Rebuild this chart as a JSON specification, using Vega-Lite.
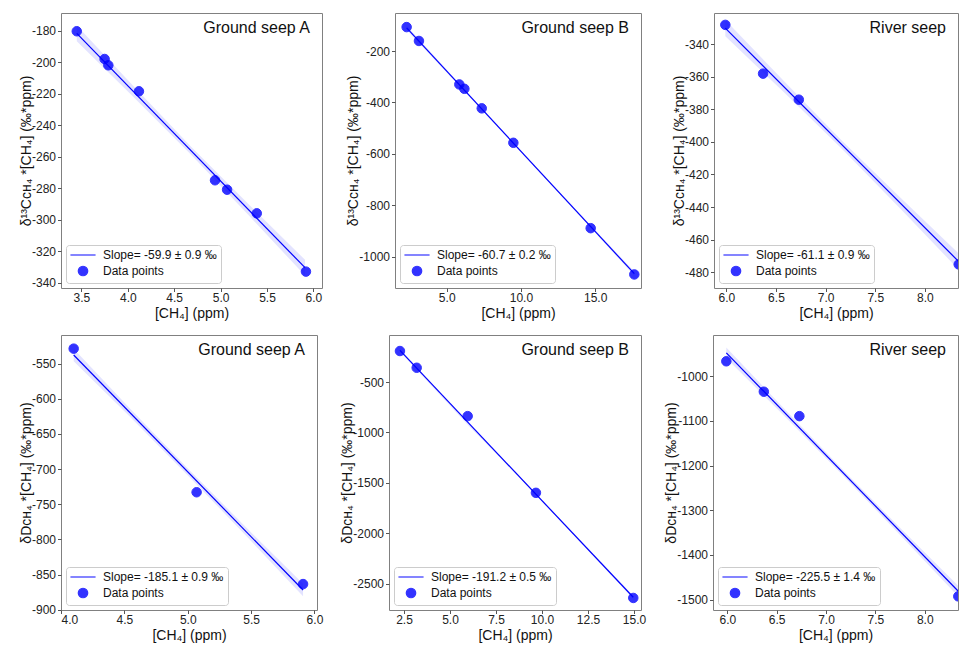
{
  "$schema": "https://vega.github.io/schema/vega-lite/v6.json",
  "padding": {"left": 18, "top": 12, "right": 0, "bottom": 0},
  "background": "white",
  "config": {
    "view": {"stroke": "#808080", "strokeWidth": 1},
    "axis": {"domain": false, "grid": false, "tickSize": 3.5, "tickColor": "#555", "labelFont": "Liberation Sans", "labelFontSize": 12, "labelColor": "#222", "labelPadding": 2, "titleFont": "Liberation Sans", "titleFontSize": 14, "titleFontWeight": "normal", "titleColor": "#111"},
    "axisX": {"titlePadding": 3, "labelPadding": 1},
    "axisY": {"titlePadding": -2, "format": "d", "labelExpr": "replace(datum.label, '\u2212', '-')"},
    "title": {"anchor": "end", "frame": "group", "offset": -23, "baseline": "top", "dx": -12, "fontSize": 16, "fontWeight": "normal", "font": "Liberation Sans", "color": "#111"},
    "legend": {"orient": "bottom-left", "offset": 5, "strokeColor": "#cccccc", "fillColor": "rgba(255,255,255,0.8)", "cornerRadius": 3, "padding": 4, "labelFont": "Liberation Sans", "labelFontSize": 12, "labelColor": "#111", "symbolStrokeWidth": 1.2, "symbolSize": 90, "symbolOffset": 7, "labelOffset": 14, "rowPadding": 2}
  },
  "datasets": {
    "d1": [
      {"kind": "band", "ppm": 3.45, "val": -186.7, "val2": -176.7},
      {"kind": "band", "ppm": 4.05, "val": -221.5, "val2": -214.5},
      {"kind": "band", "ppm": 4.68, "val": -258.6, "val2": -253.6},
      {"kind": "band", "ppm": 5.30, "val": -297.1, "val2": -290.1},
      {"kind": "band", "ppm": 5.91, "val": -335.5, "val2": -325.5},
      {"kind": "fit", "ppm": 3.45, "val": -181.7},
      {"kind": "fit", "ppm": 5.91, "val": -330.5},
      {"kind": "pt", "series": "Data points", "ppm": 3.45, "val": -180.4},
      {"kind": "pt", "series": "Data points", "ppm": 3.75, "val": -198},
      {"kind": "pt", "series": "Data points", "ppm": 3.79, "val": -202},
      {"kind": "pt", "series": "Data points", "ppm": 4.12, "val": -218.5},
      {"kind": "pt", "series": "Data points", "ppm": 4.94, "val": -275},
      {"kind": "pt", "series": "Data points", "ppm": 5.07, "val": -281},
      {"kind": "pt", "series": "Data points", "ppm": 5.39, "val": -296},
      {"kind": "pt", "series": "Data points", "ppm": 5.92, "val": -333}
    ],
    "d2": [
      {"kind": "band", "ppm": 2.30, "val": -118, "val2": -102},
      {"kind": "band", "ppm": 6.0, "val": -344.5, "val2": -336.5},
      {"kind": "band", "ppm": 10.0, "val": -592.7, "val2": -586.7},
      {"kind": "band", "ppm": 14.0, "val": -842.9, "val2": -834.9},
      {"kind": "band", "ppm": 17.64, "val": -1074, "val2": -1058},
      {"kind": "fit", "ppm": 2.30, "val": -110},
      {"kind": "fit", "ppm": 17.64, "val": -1066},
      {"kind": "pt", "series": "Data points", "ppm": 2.30, "val": -107},
      {"kind": "pt", "series": "Data points", "ppm": 3.13, "val": -161},
      {"kind": "pt", "series": "Data points", "ppm": 5.85, "val": -330},
      {"kind": "pt", "series": "Data points", "ppm": 6.19, "val": -347},
      {"kind": "pt", "series": "Data points", "ppm": 7.36, "val": -423},
      {"kind": "pt", "series": "Data points", "ppm": 9.49, "val": -557},
      {"kind": "pt", "series": "Data points", "ppm": 14.70, "val": -889},
      {"kind": "pt", "series": "Data points", "ppm": 17.64, "val": -1069}
    ],
    "d3": [
      {"kind": "band", "ppm": 5.99, "val": -335, "val2": -325},
      {"kind": "band", "ppm": 6.58, "val": -369.5, "val2": -362.5},
      {"kind": "band", "ppm": 7.17, "val": -404.6, "val2": -399.6},
      {"kind": "band", "ppm": 7.76, "val": -441.6, "val2": -434.6},
      {"kind": "band", "ppm": 8.34, "val": -478.5, "val2": -468.5},
      {"kind": "fit", "ppm": 5.99, "val": -330},
      {"kind": "fit", "ppm": 8.34, "val": -473.5},
      {"kind": "pt", "series": "Data points", "ppm": 5.99, "val": -328},
      {"kind": "pt", "series": "Data points", "ppm": 6.37, "val": -358},
      {"kind": "pt", "series": "Data points", "ppm": 6.73, "val": -374},
      {"kind": "pt", "series": "Data points", "ppm": 8.34, "val": -475.3}
    ],
    "d4": [
      {"kind": "band", "ppm": 4.10, "val": -546.7, "val2": -528.7},
      {"kind": "band", "ppm": 4.55, "val": -626.8, "val2": -614.8},
      {"kind": "band", "ppm": 5.005, "val": -709.8, "val2": -699.8},
      {"kind": "band", "ppm": 5.46, "val": -794.9, "val2": -782.9},
      {"kind": "band", "ppm": 5.91, "val": -881, "val2": -863},
      {"kind": "fit", "ppm": 4.10, "val": -537.7},
      {"kind": "fit", "ppm": 5.91, "val": -872},
      {"kind": "pt", "series": "Data points", "ppm": 4.10, "val": -528.7},
      {"kind": "pt", "series": "Data points", "ppm": 5.07, "val": -733},
      {"kind": "pt", "series": "Data points", "ppm": 5.91, "val": -863.6}
    ],
    "d5": [
      {"kind": "band", "ppm": 2.28, "val": -200, "val2": -170},
      {"kind": "band", "ppm": 6.0, "val": -930.5, "val2": -910.5},
      {"kind": "band", "ppm": 8.62, "val": -1416.9, "val2": -1402.9},
      {"kind": "band", "ppm": 12.0, "val": -2072.9, "val2": -2052.9},
      {"kind": "band", "ppm": 14.96, "val": -2650, "val2": -2620},
      {"kind": "fit", "ppm": 2.28, "val": -185},
      {"kind": "fit", "ppm": 14.96, "val": -2635},
      {"kind": "pt", "series": "Data points", "ppm": 2.28, "val": -192},
      {"kind": "pt", "series": "Data points", "ppm": 3.19, "val": -358},
      {"kind": "pt", "series": "Data points", "ppm": 5.96, "val": -838},
      {"kind": "pt", "series": "Data points", "ppm": 9.67, "val": -1599},
      {"kind": "pt", "series": "Data points", "ppm": 14.96, "val": -2642}
    ],
    "d6": [
      {"kind": "band", "ppm": 5.99, "val": -960, "val2": -936},
      {"kind": "band", "ppm": 6.58, "val": -1089.9, "val2": -1073.9},
      {"kind": "band", "ppm": 7.165, "val": -1220.5, "val2": -1208.5},
      {"kind": "band", "ppm": 7.75, "val": -1355.2, "val2": -1339.2},
      {"kind": "band", "ppm": 8.34, "val": -1493, "val2": -1469},
      {"kind": "fit", "ppm": 5.99, "val": -948},
      {"kind": "fit", "ppm": 8.34, "val": -1481},
      {"kind": "pt", "series": "Data points", "ppm": 5.99, "val": -967},
      {"kind": "pt", "series": "Data points", "ppm": 6.37, "val": -1035},
      {"kind": "pt", "series": "Data points", "ppm": 6.73, "val": -1089.6},
      {"kind": "pt", "series": "Data points", "ppm": 8.34, "val": -1492.5}
    ]
  },
  "vconcat": [
    {
      "hconcat": [
        {
          "width": 261, "height": 275,
          "data": {"name": "d1"},
          "title": {"text": "Ground seep A"},
          "encoding": {
            "x": {"field": "ppm", "type": "quantitative", "scale": {"domain": [3.28, 6.093], "nice": false, "zero": false}, "axis": {"values": [3.5, 4, 4.5, 5, 5.5, 6], "format": ".1f", "title": "[CH₄] (ppm)"}},
            "y": {"field": "val", "type": "quantitative", "scale": {"domain": [-343.4, -168.8], "nice": false, "zero": false}, "axis": {"values": [-340, -320, -300, -280, -260, -240, -220, -200, -180], "title": "δ¹³Cᴄʜ₄ *[CH₄] (‰*ppm)"}}
          },
          "layer": [
            {"transform": [{"filter": "datum.kind == 'band'"}], "mark": {"type": "area", "color": "#0000ff", "opacity": 0.11, "clip": true}, "encoding": {"y2": {"field": "val2"}}},
            {"transform": [{"filter": "datum.kind == 'fit'"}], "mark": {"type": "line", "color": "#0000ff", "strokeWidth": 1.2, "clip": true}, "encoding": {}},
            {"transform": [{"filter": "datum.kind == 'pt'"}], "mark": {"type": "point", "filled": true, "size": 90, "opacity": 0.8, "stroke": "#0000ff", "strokeWidth": 1, "clip": true},
             "encoding": {
               "color": {"field": "series", "type": "nominal", "scale": {"domain": ["Slope= -59.9 ± 0.9 ‰", "Data points"], "range": ["#0000ff", "#0000ff"]}, "legend": {"title": null}},
               "shape": {"field": "series", "type": "nominal", "scale": {"domain": ["Slope= -59.9 ± 0.9 ‰", "Data points"], "range": ["M-2.65,0H2.65", "circle"]}, "legend": {"title": null}}
             }}
          ]
        },
        {
          "width": 246, "height": 275,
          "data": {"name": "d2"},
          "title": {"text": "Ground seep B"},
          "encoding": {
            "x": {"field": "ppm", "type": "quantitative", "scale": {"domain": [1.516, 18.09], "nice": false, "zero": false}, "axis": {"values": [5, 10, 15], "format": ".1f", "title": "[CH₄] (ppm)"}},
            "y": {"field": "val", "type": "quantitative", "scale": {"domain": [-1121.7, -52.2], "nice": false, "zero": false}, "axis": {"values": [-1000, -800, -600, -400, -200], "title": "δ¹³Cᴄʜ₄ *[CH₄] (‰*ppm)"}}
          },
          "layer": [
            {"transform": [{"filter": "datum.kind == 'band'"}], "mark": {"type": "area", "color": "#0000ff", "opacity": 0.11, "clip": true}, "encoding": {"y2": {"field": "val2"}}},
            {"transform": [{"filter": "datum.kind == 'fit'"}], "mark": {"type": "line", "color": "#0000ff", "strokeWidth": 1.2, "clip": true}, "encoding": {}},
            {"transform": [{"filter": "datum.kind == 'pt'"}], "mark": {"type": "point", "filled": true, "size": 90, "opacity": 0.8, "stroke": "#0000ff", "strokeWidth": 1, "clip": true},
             "encoding": {
               "color": {"field": "series", "type": "nominal", "scale": {"domain": ["Slope= -60.7 ± 0.2 ‰", "Data points"], "range": ["#0000ff", "#0000ff"]}, "legend": {"title": null}},
               "shape": {"field": "series", "type": "nominal", "scale": {"domain": ["Slope= -60.7 ± 0.2 ‰", "Data points"], "range": ["M-2.65,0H2.65", "circle"]}, "legend": {"title": null}}
             }}
          ]
        },
        {
          "width": 244, "height": 275,
          "data": {"name": "d3"},
          "title": {"text": "River seep"},
          "encoding": {
            "x": {"field": "ppm", "type": "quantitative", "scale": {"domain": [5.876, 8.333], "nice": false, "zero": false}, "axis": {"values": [6, 6.5, 7, 7.5, 8], "format": ".1f", "title": "[CH₄] (ppm)"}},
            "y": {"field": "val", "type": "quantitative", "scale": {"domain": [-489.8, -320.7], "nice": false, "zero": false}, "axis": {"values": [-480, -460, -440, -420, -400, -380, -360, -340], "title": "δ¹³Cᴄʜ₄ *[CH₄] (‰*ppm)"}}
          },
          "layer": [
            {"transform": [{"filter": "datum.kind == 'band'"}], "mark": {"type": "area", "color": "#0000ff", "opacity": 0.11, "clip": true}, "encoding": {"y2": {"field": "val2"}}},
            {"transform": [{"filter": "datum.kind == 'fit'"}], "mark": {"type": "line", "color": "#0000ff", "strokeWidth": 1.2, "clip": true}, "encoding": {}},
            {"transform": [{"filter": "datum.kind == 'pt'"}], "mark": {"type": "point", "filled": true, "size": 90, "opacity": 0.8, "stroke": "#0000ff", "strokeWidth": 1, "clip": true},
             "encoding": {
               "color": {"field": "series", "type": "nominal", "scale": {"domain": ["Slope= -61.1 ± 0.9 ‰", "Data points"], "range": ["#0000ff", "#0000ff"]}, "legend": {"title": null}},
               "shape": {"field": "series", "type": "nominal", "scale": {"domain": ["Slope= -61.1 ± 0.9 ‰", "Data points"], "range": ["M-2.65,0H2.65", "circle"]}, "legend": {"title": null}}
             }}
          ]
        }
      ],
      "spacing": 73,
      "bounds": "flush",
      "resolve": {"scale": {"color": "independent", "shape": "independent"}, "legend": {"color": "independent", "shape": "independent"}}
    },
    {
      "hconcat": [
        {
          "width": 256, "height": 275,
          "data": {"name": "d4"},
          "title": {"text": "Ground seep A"},
          "encoding": {
            "x": {"field": "ppm", "type": "quantitative", "scale": {"domain": [4.0, 6.02], "nice": false, "zero": false}, "axis": {"values": [4, 4.5, 5, 5.5, 6], "format": ".1f", "title": "[CH₄] (ppm)"}},
            "y": {"field": "val", "type": "quantitative", "scale": {"domain": [-900.5, -509.3], "nice": false, "zero": false}, "axis": {"values": [-900, -850, -800, -750, -700, -650, -600, -550], "title": "δDᴄʜ₄ *[CH₄] (‰*ppm)"}}
          },
          "layer": [
            {"transform": [{"filter": "datum.kind == 'band'"}], "mark": {"type": "area", "color": "#0000ff", "opacity": 0.11, "clip": true}, "encoding": {"y2": {"field": "val2"}}},
            {"transform": [{"filter": "datum.kind == 'fit'"}], "mark": {"type": "line", "color": "#0000ff", "strokeWidth": 1.2, "clip": true}, "encoding": {}},
            {"transform": [{"filter": "datum.kind == 'pt'"}], "mark": {"type": "point", "filled": true, "size": 90, "opacity": 0.8, "stroke": "#0000ff", "strokeWidth": 1, "clip": true},
             "encoding": {
               "color": {"field": "series", "type": "nominal", "scale": {"domain": ["Slope= -185.1 ± 0.9 ‰", "Data points"], "range": ["#0000ff", "#0000ff"]}, "legend": {"title": null}},
               "shape": {"field": "series", "type": "nominal", "scale": {"domain": ["Slope= -185.1 ± 0.9 ‰", "Data points"], "range": ["M-2.65,0H2.65", "circle"]}, "legend": {"title": null}}
             }}
          ]
        },
        {
          "width": 252, "height": 275,
          "data": {"name": "d5"},
          "title": {"text": "Ground seep B"},
          "encoding": {
            "x": {"field": "ppm", "type": "quantitative", "scale": {"domain": [1.685, 15.38], "nice": false, "zero": false}, "axis": {"values": [2.5, 5, 7.5, 10, 12.5, 15], "format": ".1f", "title": "[CH₄] (ppm)"}},
            "y": {"field": "val", "type": "quantitative", "scale": {"domain": [-2761.6, -33], "nice": false, "zero": false}, "axis": {"values": [-2500, -2000, -1500, -1000, -500], "title": "δDᴄʜ₄ *[CH₄] (‰*ppm)"}}
          },
          "layer": [
            {"transform": [{"filter": "datum.kind == 'band'"}], "mark": {"type": "area", "color": "#0000ff", "opacity": 0.11, "clip": true}, "encoding": {"y2": {"field": "val2"}}},
            {"transform": [{"filter": "datum.kind == 'fit'"}], "mark": {"type": "line", "color": "#0000ff", "strokeWidth": 1.2, "clip": true}, "encoding": {}},
            {"transform": [{"filter": "datum.kind == 'pt'"}], "mark": {"type": "point", "filled": true, "size": 90, "opacity": 0.8, "stroke": "#0000ff", "strokeWidth": 1, "clip": true},
             "encoding": {
               "color": {"field": "series", "type": "nominal", "scale": {"domain": ["Slope= -191.2 ± 0.5 ‰", "Data points"], "range": ["#0000ff", "#0000ff"]}, "legend": {"title": null}},
               "shape": {"field": "series", "type": "nominal", "scale": {"domain": ["Slope= -191.2 ± 0.5 ‰", "Data points"], "range": ["M-2.65,0H2.65", "circle"]}, "legend": {"title": null}}
             }}
          ]
        },
        {
          "width": 245, "height": 275,
          "data": {"name": "d6"},
          "title": {"text": "River seep"},
          "encoding": {
            "x": {"field": "ppm", "type": "quantitative", "scale": {"domain": [5.855, 8.337], "nice": false, "zero": false}, "axis": {"values": [6, 6.5, 7, 7.5, 8], "format": ".1f", "title": "[CH₄] (ppm)"}},
            "y": {"field": "val", "type": "quantitative", "scale": {"domain": [-1523, -908.2], "nice": false, "zero": false}, "axis": {"values": [-1500, -1400, -1300, -1200, -1100, -1000], "title": "δDᴄʜ₄ *[CH₄] (‰*ppm)"}}
          },
          "layer": [
            {"transform": [{"filter": "datum.kind == 'band'"}], "mark": {"type": "area", "color": "#0000ff", "opacity": 0.11, "clip": true}, "encoding": {"y2": {"field": "val2"}}},
            {"transform": [{"filter": "datum.kind == 'fit'"}], "mark": {"type": "line", "color": "#0000ff", "strokeWidth": 1.2, "clip": true}, "encoding": {}},
            {"transform": [{"filter": "datum.kind == 'pt'"}], "mark": {"type": "point", "filled": true, "size": 90, "opacity": 0.8, "stroke": "#0000ff", "strokeWidth": 1, "clip": true},
             "encoding": {
               "color": {"field": "series", "type": "nominal", "scale": {"domain": ["Slope= -225.5 ± 1.4 ‰", "Data points"], "range": ["#0000ff", "#0000ff"]}, "legend": {"title": null}},
               "shape": {"field": "series", "type": "nominal", "scale": {"domain": ["Slope= -225.5 ± 1.4 ‰", "Data points"], "range": ["M-2.65,0H2.65", "circle"]}, "legend": {"title": null}}
             }}
          ]
        }
      ],
      "spacing": 72,
      "bounds": "flush",
      "resolve": {"scale": {"color": "independent", "shape": "independent"}, "legend": {"color": "independent", "shape": "independent"}}
    }
  ],
  "spacing": 13,
  "resolve": {"scale": {"color": "independent", "shape": "independent"}, "legend": {"color": "independent", "shape": "independent"}}
}
